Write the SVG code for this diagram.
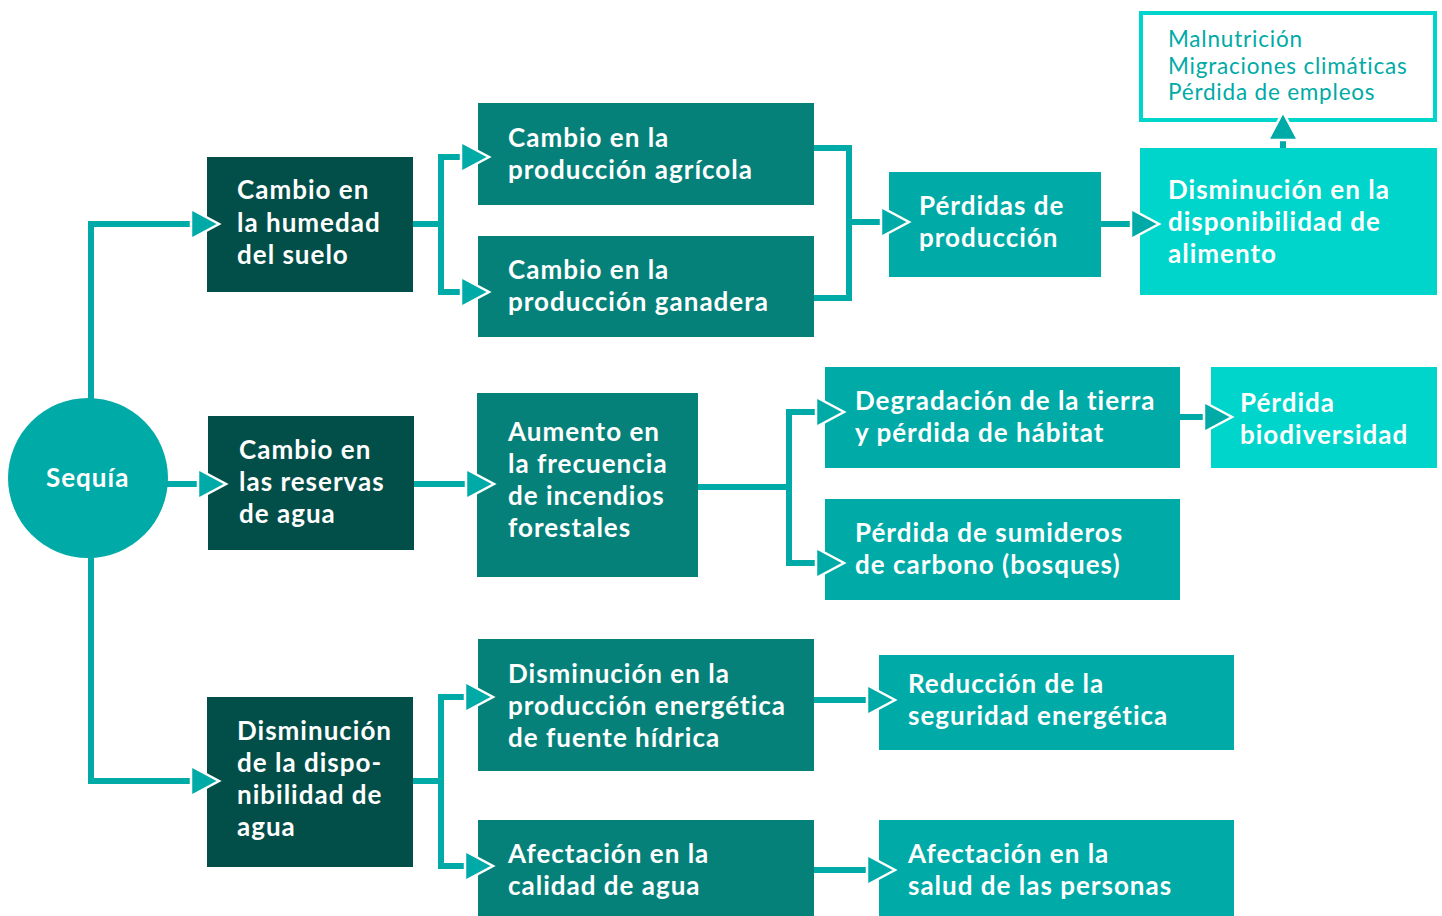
<svg xmlns="http://www.w3.org/2000/svg" xmlns:xlink="http://www.w3.org/1999/xlink" width="1442" height="916" viewBox="0 0 1442 916">
<style>
.dark{fill:#024e48}
.med{fill:#06817a}
.teal{fill:#00aaa6}
.bright{fill:#00d5cb}
.t{font-family:Lato,"Noto Sans",sans-serif;font-weight:bold;font-size:26px;letter-spacing:1px;fill:#ffffff}
.lt{font-family:Lato,"Noto Sans",sans-serif;font-size:22.5px;letter-spacing:0.8px;fill:#00aaa6}
.ln{fill:none;stroke:#00aaa6;stroke-width:6}
.ah{fill:#00aaa6;stroke:#ffffff;stroke-width:2.5;stroke-linejoin:miter}
</style>
<defs>
<path id="ah" d="M-28,-15 L0,0 L-28,15 Z"/>
</defs>
<rect width="1442" height="916" fill="#ffffff"/>

<g id="sequia"><circle cx="88" cy="478" r="80" class="teal"/><text x="46" y="487" class="t">Sequía</text></g>

<g id="humedad"><rect x="207" y="157" width="206" height="135" class="dark"/>
<text class="t"><tspan x="237" y="199">Cambio en</tspan><tspan x="237" y="232">la humedad</tspan><tspan x="237" y="264">del suelo</tspan></text></g>

<g id="reservas"><rect x="208" y="416" width="206" height="134" class="dark"/>
<text class="t"><tspan x="239" y="459">Cambio en</tspan><tspan x="239" y="491">las reservas</tspan><tspan x="239" y="523">de agua</tspan></text></g>

<g id="disponibilidad-agua"><rect x="207" y="697" width="206" height="170" class="dark"/>
<text class="t"><tspan x="237" y="740">Disminución</tspan><tspan x="237" y="772">de la dispo-</tspan><tspan x="237" y="804">nibilidad de</tspan><tspan x="237" y="836">agua</tspan></text></g>

<g id="agricola"><rect x="478" y="103" width="336" height="102" class="med"/>
<text class="t"><tspan x="508" y="147">Cambio en la</tspan><tspan x="508" y="179">producción agrícola</tspan></text></g>

<g id="ganadera"><rect x="478" y="236" width="336" height="101" class="med"/>
<text class="t"><tspan x="508" y="279">Cambio en la</tspan><tspan x="508" y="311">producción ganadera</tspan></text></g>

<g id="incendios"><rect x="477" y="393" width="221" height="184" class="med"/>
<text class="t"><tspan x="508" y="441">Aumento en</tspan><tspan x="508" y="473">la frecuencia</tspan><tspan x="508" y="505">de incendios</tspan><tspan x="508" y="537">forestales</tspan></text></g>

<g id="energetica"><rect x="478" y="639" width="336" height="132" class="med"/>
<text class="t"><tspan x="508" y="683">Disminución en la</tspan><tspan x="508" y="715">producción energética</tspan><tspan x="508" y="747">de fuente hídrica</tspan></text></g>

<g id="calidad"><rect x="478" y="820" width="336" height="96" class="med"/>
<text class="t"><tspan x="508" y="863">Afectación en la</tspan><tspan x="508" y="895">calidad de agua</tspan></text></g>

<g id="perdidas-produccion"><rect x="889" y="172" width="212" height="105" class="teal"/>
<text class="t"><tspan x="919" y="215">Pérdidas de</tspan><tspan x="919" y="247">producción</tspan></text></g>

<g id="alimento"><rect x="1140" y="148" width="297" height="147" class="bright"/>
<text class="t"><tspan x="1168" y="199">Disminución en la</tspan><tspan x="1168" y="231">disponibilidad de</tspan><tspan x="1168" y="263">alimento</tspan></text></g>

<g id="consecuencias"><rect x="1141" y="13" width="294" height="107" fill="#ffffff" stroke="#00d5cb" stroke-width="4"/>
<text class="lt"><tspan x="1168" y="47">Malnutrición</tspan><tspan x="1168" y="74">Migraciones climáticas</tspan><tspan x="1168" y="100">Pérdida de empleos</tspan></text></g>

<g id="degradacion"><rect x="825" y="367" width="355" height="101" class="teal"/>
<text class="t"><tspan x="855" y="410">Degradación de la tierra</tspan><tspan x="855" y="442">y pérdida de hábitat</tspan></text></g>

<g id="biodiversidad"><rect x="1211" y="367" width="226" height="101" class="bright"/>
<text class="t"><tspan x="1240" y="412">Pérdida</tspan><tspan x="1240" y="444">biodiversidad</tspan></text></g>

<g id="sumideros"><rect x="825" y="499" width="355" height="101" class="teal"/>
<text class="t"><tspan x="855" y="542">Pérdida de sumideros</tspan><tspan x="855" y="574">de carbono (bosques)</tspan></text></g>

<g id="seguridad"><rect x="879" y="655" width="355" height="95" class="teal"/>
<text class="t"><tspan x="908" y="693">Reducción de la</tspan><tspan x="908" y="725">seguridad energética</tspan></text></g>

<g id="salud"><rect x="879" y="820" width="355" height="96" class="teal"/>
<text class="t"><tspan x="908" y="863">Afectación en la</tspan><tspan x="908" y="895">salud de las personas</tspan></text></g>

<g id="connectors">
<path class="ln" d="M91,400 V224 H196"/>
<path class="ln" d="M166,484 H200"/>
<path class="ln" d="M91,556 V781 H196"/>
<path class="ln" d="M413,224 H441 M466,157 H441 V292 H466"/>
<path class="ln" d="M414,484 H470"/>
<path class="ln" d="M413,781 H441 M470,697 H441 V866 H470"/>
<path class="ln" d="M814,148 H849 V298 H814 M849,222 H884"/>
<path class="ln" d="M1101,224 H1134"/>
<path class="ln" d="M1283,148 V134"/>
<path class="ln" d="M698,487 H789 M818,412 H789 V563 H818"/>
<path class="ln" d="M1180,417 H1206"/>
<path class="ln" d="M814,700 H870"/>
<path class="ln" d="M814,870 H870"/>
<use xlink:href="#ah" class="ah" transform="translate(219,224)"/>
<use xlink:href="#ah" class="ah" transform="translate(226,484)"/>
<use xlink:href="#ah" class="ah" transform="translate(219,781)"/>
<use xlink:href="#ah" class="ah" transform="translate(489,157)"/>
<use xlink:href="#ah" class="ah" transform="translate(489,292)"/>
<use xlink:href="#ah" class="ah" transform="translate(494,484)"/>
<use xlink:href="#ah" class="ah" transform="translate(493,697)"/>
<use xlink:href="#ah" class="ah" transform="translate(493,866)"/>
<use xlink:href="#ah" class="ah" transform="translate(909,222)"/>
<use xlink:href="#ah" class="ah" transform="translate(1159,224)"/>
<use xlink:href="#ah" class="ah" transform="translate(1283,112) rotate(-90)"/>
<use xlink:href="#ah" class="ah" transform="translate(844,412)"/>
<use xlink:href="#ah" class="ah" transform="translate(844,563)"/>
<use xlink:href="#ah" class="ah" transform="translate(1232,417)"/>
<use xlink:href="#ah" class="ah" transform="translate(895,700)"/>
<use xlink:href="#ah" class="ah" transform="translate(895,870)"/>
</g>
</svg>
